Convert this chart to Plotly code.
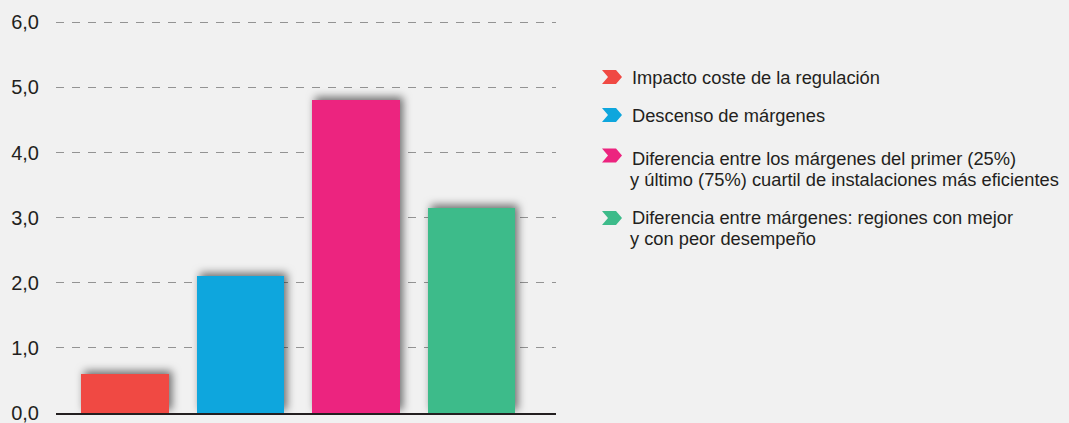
import plotly.graph_objects as go

# Data
categories = [
    "Impacto coste de la regulación",
    "Descenso de márgenes",
    "Diferencia entre los márgenes del primer (25%) y último (75%) cuartil de instalaciones más eficientes",
    "Diferencia entre márgenes: regiones con mejor y con peor desempeño",
]
values = [0.6, 2.1, 4.8, 3.15]
colors = ["#f04943", "#0ea6dd", "#ec247f", "#3dbb8a"]
legend_lines = [
    ["Impacto coste de la regulación"],
    ["Descenso de márgenes"],
    ["Diferencia entre los márgenes del primer (25%)",
     "y último (75%) cuartil de instalaciones más eficientes"],
    ["Diferencia entre márgenes: regiones con mejor",
     "y con peor desempeño"],
]
y_ticks = [0, 1, 2, 3, 4, 5, 6]

W, H = 1069, 423
Y_MAX = 6.05
UNIT = 65.05  # pixels per y unit
ML, MR, MB = 56, W - 556, H - 412.7
PH = UNIT * Y_MAX
MT = H - MB - PH
PW = W - ML - MR

BG = "#f1f1f1"
TXT = "#231f20"
FONT = "Liberation Sans, Arial, Helvetica, sans-serif"


def px_x(px):
    return (px - ML) / PW


def px_y(py):
    return (H - MB - py) / PH


fig = go.Figure()
fig.add_trace(go.Bar(
    x=list(range(len(categories))),
    y=values,
    marker=dict(color=colors, line=dict(width=0)),
    width=0.76,
    hoverinfo="skip",
    showlegend=False,
))

shapes = []
annotations = []

# Legend: chevron markers and labels
marker_cy = [77, 115, 155.5, 218]
line_cy = [[78], [115.5], [158, 179], [217.5, 238.5]]
for i, lines in enumerate(legend_lines):
    cy = marker_cy[i]
    x0, x1 = 602, 622
    h = 7
    pts = [(x0, cy - h), (x1 - 6, cy - h), (x1, cy), (x1 - 6, cy + h),
           (x0, cy + h), (x0 + 6, cy)]
    path = "M " + " L ".join(f"{px_x(a):.5f},{px_y(b):.5f}" for a, b in pts) + " Z"
    shapes.append(dict(type="path", xref="paper", yref="paper", path=path,
                       fillcolor=colors[i], line=dict(width=0)))
    for j, txt in enumerate(lines):
        annotations.append(dict(
            x=px_x(630 if j == 0 else 628), y=px_y(line_cy[i][j]),
            xref="paper", yref="paper", xanchor="left", yanchor="middle",
            text=txt, showarrow=False, align="left",
            font=dict(family=FONT, size=18.3, color=TXT),
        ))

fig.update_layout(
    width=W, height=H,
    margin=dict(l=ML, r=MR, t=MT, b=MB, pad=0, autoexpand=False),
    paper_bgcolor=BG, plot_bgcolor=BG,
    separators=",.",
    font=dict(family=FONT, color=TXT),
    shapes=shapes,
    annotations=annotations,
    xaxis=dict(
        range=[-0.597, 3.732],
        showticklabels=False, showgrid=False, zeroline=False,
        showline=True, linecolor=TXT, linewidth=2.2,
        fixedrange=True, automargin=False,
    ),
    yaxis=dict(
        range=[0, Y_MAX],
        tickvals=y_ticks, tickformat=".1f",
        tickfont=dict(family=FONT, size=20, color=TXT),
        ticks="", ticklabelstandoff=16, ticklabeloverflow="allow",
        showgrid=True, gridcolor="#939393", gridwidth=1.4, griddash="8px,8px",
        zeroline=False, showline=False,
        fixedrange=True, automargin=False,
    ),
    bargap=0,
)

# Soft drop shadow behind the bars
shadow_js = """
var s = document.createElement('style');
s.innerHTML = '.barlayer .point path { filter: drop-shadow(3px -3px 4px rgba(0,0,0,0.55)); }';
document.head.appendChild(s);
"""

fig.write_html("out.html", config={"displayModeBar": False}, post_script=shadow_js)
